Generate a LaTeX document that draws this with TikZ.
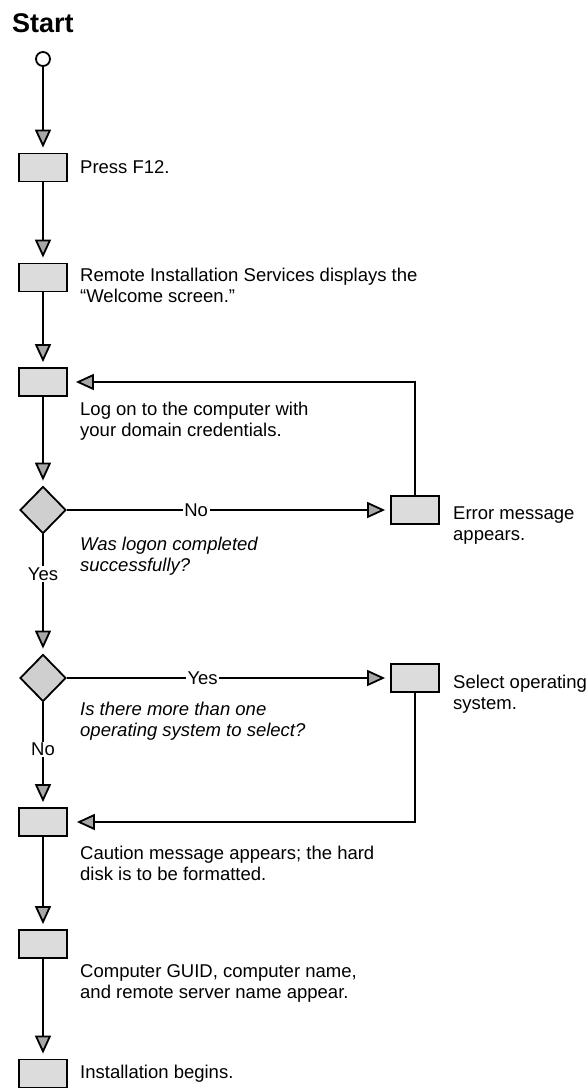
\documentclass[tikz,border=0pt]{standalone}
\usepackage{fontspec}
\setmainfont{Liberation Sans}
\usepackage{xcolor}
\usetikzlibrary{arrows.meta,shapes.geometric}

\begin{document}
\begin{tikzpicture}[x=1pt,y=-1pt,
  stepbox/.style={draw,line width=1.8pt,fill=boxgray,minimum width=48pt,minimum height=28pt,inner sep=0pt},
  decision/.style={diamond,draw,line width=1.8pt,fill=diagray,minimum width=46pt,minimum height=47pt,inner sep=0pt},
  note/.style={anchor=west,align=left,inner sep=0pt,font=\fontsize{18.5}{21}\selectfont},
  answer/.style={fill=white,inner sep=1.5pt,font=\fontsize{18.5}{21}\selectfont},
  flow/.style={line width=2.8pt,shorten >=5pt,-{Triangle[length=18pt,width=16pt,line width=1.8pt,fill=tipgray]}}]
\definecolor{boxgray}{HTML}{DCDCDC}
\definecolor{diagray}{HTML}{CFCFCF}
\definecolor{tipgray}{HTML}{A8A8A8}
\path[fill=white,use as bounding box] (0,0) rectangle (586,1090);
\node[anchor=base west,inner sep=0pt,font=\bfseries\fontsize{27}{30}\selectfont] (title) at (12,32) {Start};
\node[circle,draw,line width=1.8pt,fill=white,minimum size=14pt,inner sep=0pt] (begin) at (43,59) {};
  \foreach \name/\pos in {press/167.5,welcome/277.5,logon/382,caution/822,guid/944,install/1073.5}
  {  \node [stepbox] (\name) at (43,\pos) {};}
\node[decision] (check) at (43,510) {};
\node[decision] (choose) at (43,678) {};
\node[stepbox] (error) at (415,510) {};
\node[stepbox] (select) at (415,678) {};
% texts
\node[note] (pressT) at (80,167) {Press F12.};
\node[note] (welcomeT) at (80,285) {Remote Installation Services displays the\\“Welcome screen.”};
\node[note] (logonT) at (80,421) {Log on to the computer with\\your domain credentials.};
\node[note,font=\itshape\fontsize{18.5}{21}\selectfont] (checkT) at (80,556) {Was logon completed\\successfully?};
\node[note] (errorT) at (453,526) {Error message\\appears.};
\node[note] (selectT) at (453,694) {Select operating\\system.};
\node[note,font=\itshape\fontsize{18.5}{21}\selectfont] (chooseT) at (80,721) {Is there more than one\\operating system to select?};
\node[note] (cautionT) at (80,863) {Caution message appears; the hard\\disk is to be formatted.};
\node[note] (guidT) at (80,983.5) {Computer GUID, computer name,\\and remote server name appear.};
\node[note] (installT) at (80,1074) {Installation begins.};
% connectors
  \foreach \a/\b in {begin/press,press/welcome,welcome/logon,logon/check,caution/guid,guid/install}
  {  \draw[flow] (\a) -- (\b);}
\draw[flow] (check) -- node[answer,pos=0.33] {Yes} (choose);
\draw[flow] (choose) -- node[answer,pos=0.45] {No} (caution);
\draw[flow] (check) -- node[answer,pos=0.4] {No} (error);
\draw[flow] (choose) -- node[answer,pos=0.42] {Yes} (select);
\draw[flow,shorten >=8pt] (error.north) |- (logon.east);
\draw[flow,shorten >=9pt] (select.south) |- (caution.east);
\end{tikzpicture}
\end{document}
